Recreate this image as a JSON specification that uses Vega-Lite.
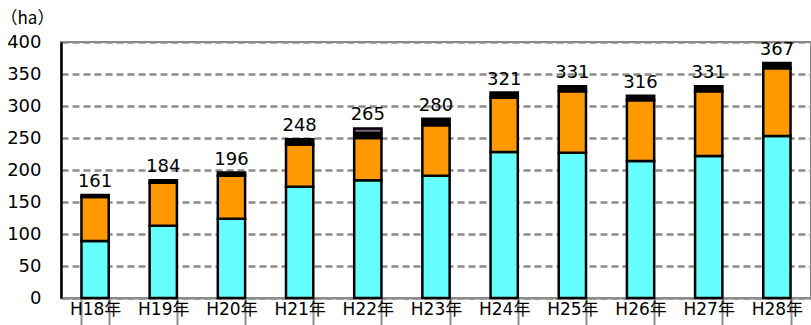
{
  "$schema": "https://vega.github.io/schema/vega-lite/v6.json",
  "width": 750,
  "height": 256,
  "autosize": {"type": "none"},
  "padding": {"left": 61, "top": 42, "right": 0, "bottom": 27},
  "config": {
    "font": "DejaVu Sans",
    "view": {"stroke": "#888888", "strokeWidth": 2}
  },
  "datasets": {
    "parts": [
      {"year": "H18年", "type": "a", "k": 1, "value": 89},
      {"year": "H18年", "type": "b", "k": 2, "value": 69},
      {"year": "H18年", "type": "c", "k": 3, "value": 3},
      {"year": "H19年", "type": "a", "k": 1, "value": 113},
      {"year": "H19年", "type": "b", "k": 2, "value": 67},
      {"year": "H19年", "type": "c", "k": 3, "value": 4},
      {"year": "H20年", "type": "a", "k": 1, "value": 124},
      {"year": "H20年", "type": "b", "k": 2, "value": 67},
      {"year": "H20年", "type": "c", "k": 3, "value": 5},
      {"year": "H21年", "type": "a", "k": 1, "value": 174},
      {"year": "H21年", "type": "b", "k": 2, "value": 66},
      {"year": "H21年", "type": "c", "k": 3, "value": 8},
      {"year": "H22年", "type": "a", "k": 1, "value": 184},
      {"year": "H22年", "type": "b", "k": 2, "value": 66},
      {"year": "H22年", "type": "c", "k": 3, "value": 8},
      {"year": "H22年", "type": "d", "k": 4, "value": 7},
      {"year": "H23年", "type": "a", "k": 1, "value": 191},
      {"year": "H23年", "type": "b", "k": 2, "value": 79},
      {"year": "H23年", "type": "c", "k": 3, "value": 10},
      {"year": "H24年", "type": "a", "k": 1, "value": 228},
      {"year": "H24年", "type": "b", "k": 2, "value": 85},
      {"year": "H24年", "type": "c", "k": 3, "value": 8},
      {"year": "H25年", "type": "a", "k": 1, "value": 227},
      {"year": "H25年", "type": "b", "k": 2, "value": 96},
      {"year": "H25年", "type": "c", "k": 3, "value": 8},
      {"year": "H26年", "type": "a", "k": 1, "value": 214},
      {"year": "H26年", "type": "b", "k": 2, "value": 95},
      {"year": "H26年", "type": "c", "k": 3, "value": 7},
      {"year": "H27年", "type": "a", "k": 1, "value": 222},
      {"year": "H27年", "type": "b", "k": 2, "value": 101},
      {"year": "H27年", "type": "c", "k": 3, "value": 8},
      {"year": "H28年", "type": "a", "k": 1, "value": 253},
      {"year": "H28年", "type": "b", "k": 2, "value": 106},
      {"year": "H28年", "type": "c", "k": 3, "value": 8}
    ],
    "totals": [
      {"year": "H18年", "value": 161},
      {"year": "H19年", "value": 184},
      {"year": "H20年", "value": 196},
      {"year": "H21年", "value": 248},
      {"year": "H22年", "value": 265},
      {"year": "H23年", "value": 280},
      {"year": "H24年", "value": 321},
      {"year": "H25年", "value": 331},
      {"year": "H26年", "value": 316},
      {"year": "H27年", "value": 331},
      {"year": "H28年", "value": 367}
    ]
  },
  "encoding": {
    "x": {
      "field": "year",
      "type": "nominal",
      "sort": null,
      "scale": {"paddingInner": 0.6, "paddingOuter": 0.3},
      "axis": {
        "title": null,
        "labelAngle": 0,
        "labelFontSize": 17,
        "labelColor": "#000000",
        "labelFont": "DejaVu Sans, Noto Sans CJK JP",
        "labelPadding": -19,
        "labelBaseline": "middle",
        "tickBand": "extent",
        "tickSize": 30,
        "tickColor": "#8c8c8c",
        "tickWidth": 2,
        "domainColor": "#8c8c8c",
        "domainWidth": 2
      }
    },
    "y": {
      "field": "value",
      "type": "quantitative",
      "stack": "zero",
      "scale": {"domain": [0, 400], "nice": false},
      "axis": {
        "values": [0, 50, 100, 150, 200, 250, 300, 350, 400],
        "labelOverlap": false,
        "title": "（ha）",
        "titleAngle": 0,
        "titleAlign": "left",
        "titleBaseline": "middle",
        "titleX": -61,
        "titleY": -24,
        "titleFontSize": 17,
        "titleFontWeight": "normal",
        "titleFont": "Noto Sans CJK JP",
        "titleColor": "#000000",
        "labelFontSize": 18,
        "labelColor": "#000000",
        "labelPadding": 20,
        "ticks": false,
        "domainColor": "#000000",
        "domainWidth": 2.5,
        "grid": true,
        "gridColor": "#8c8c8c",
        "gridWidth": 2.5,
        "gridDash": [7, 4]
      }
    }
  },
  "layer": [
    {
      "data": {"name": "parts"},
      "mark": {"type": "bar", "stroke": "#000000", "strokeWidth": 2.5},
      "encoding": {
        "color": {
          "field": "type",
          "type": "nominal",
          "scale": {"domain": ["a", "b", "c", "d"], "range": ["#66FFFF", "#FF9900", "#000000", "#806080"]},
          "legend": null
        },
        "order": {"field": "k", "type": "quantitative"}
      }
    },
    {
      "data": {"name": "totals"},
      "mark": {"type": "text", "baseline": "bottom", "dy": -4, "fontSize": 18, "color": "#000000"},
      "encoding": {
        "text": {"field": "value", "type": "quantitative"}
      }
    }
  ]
}
